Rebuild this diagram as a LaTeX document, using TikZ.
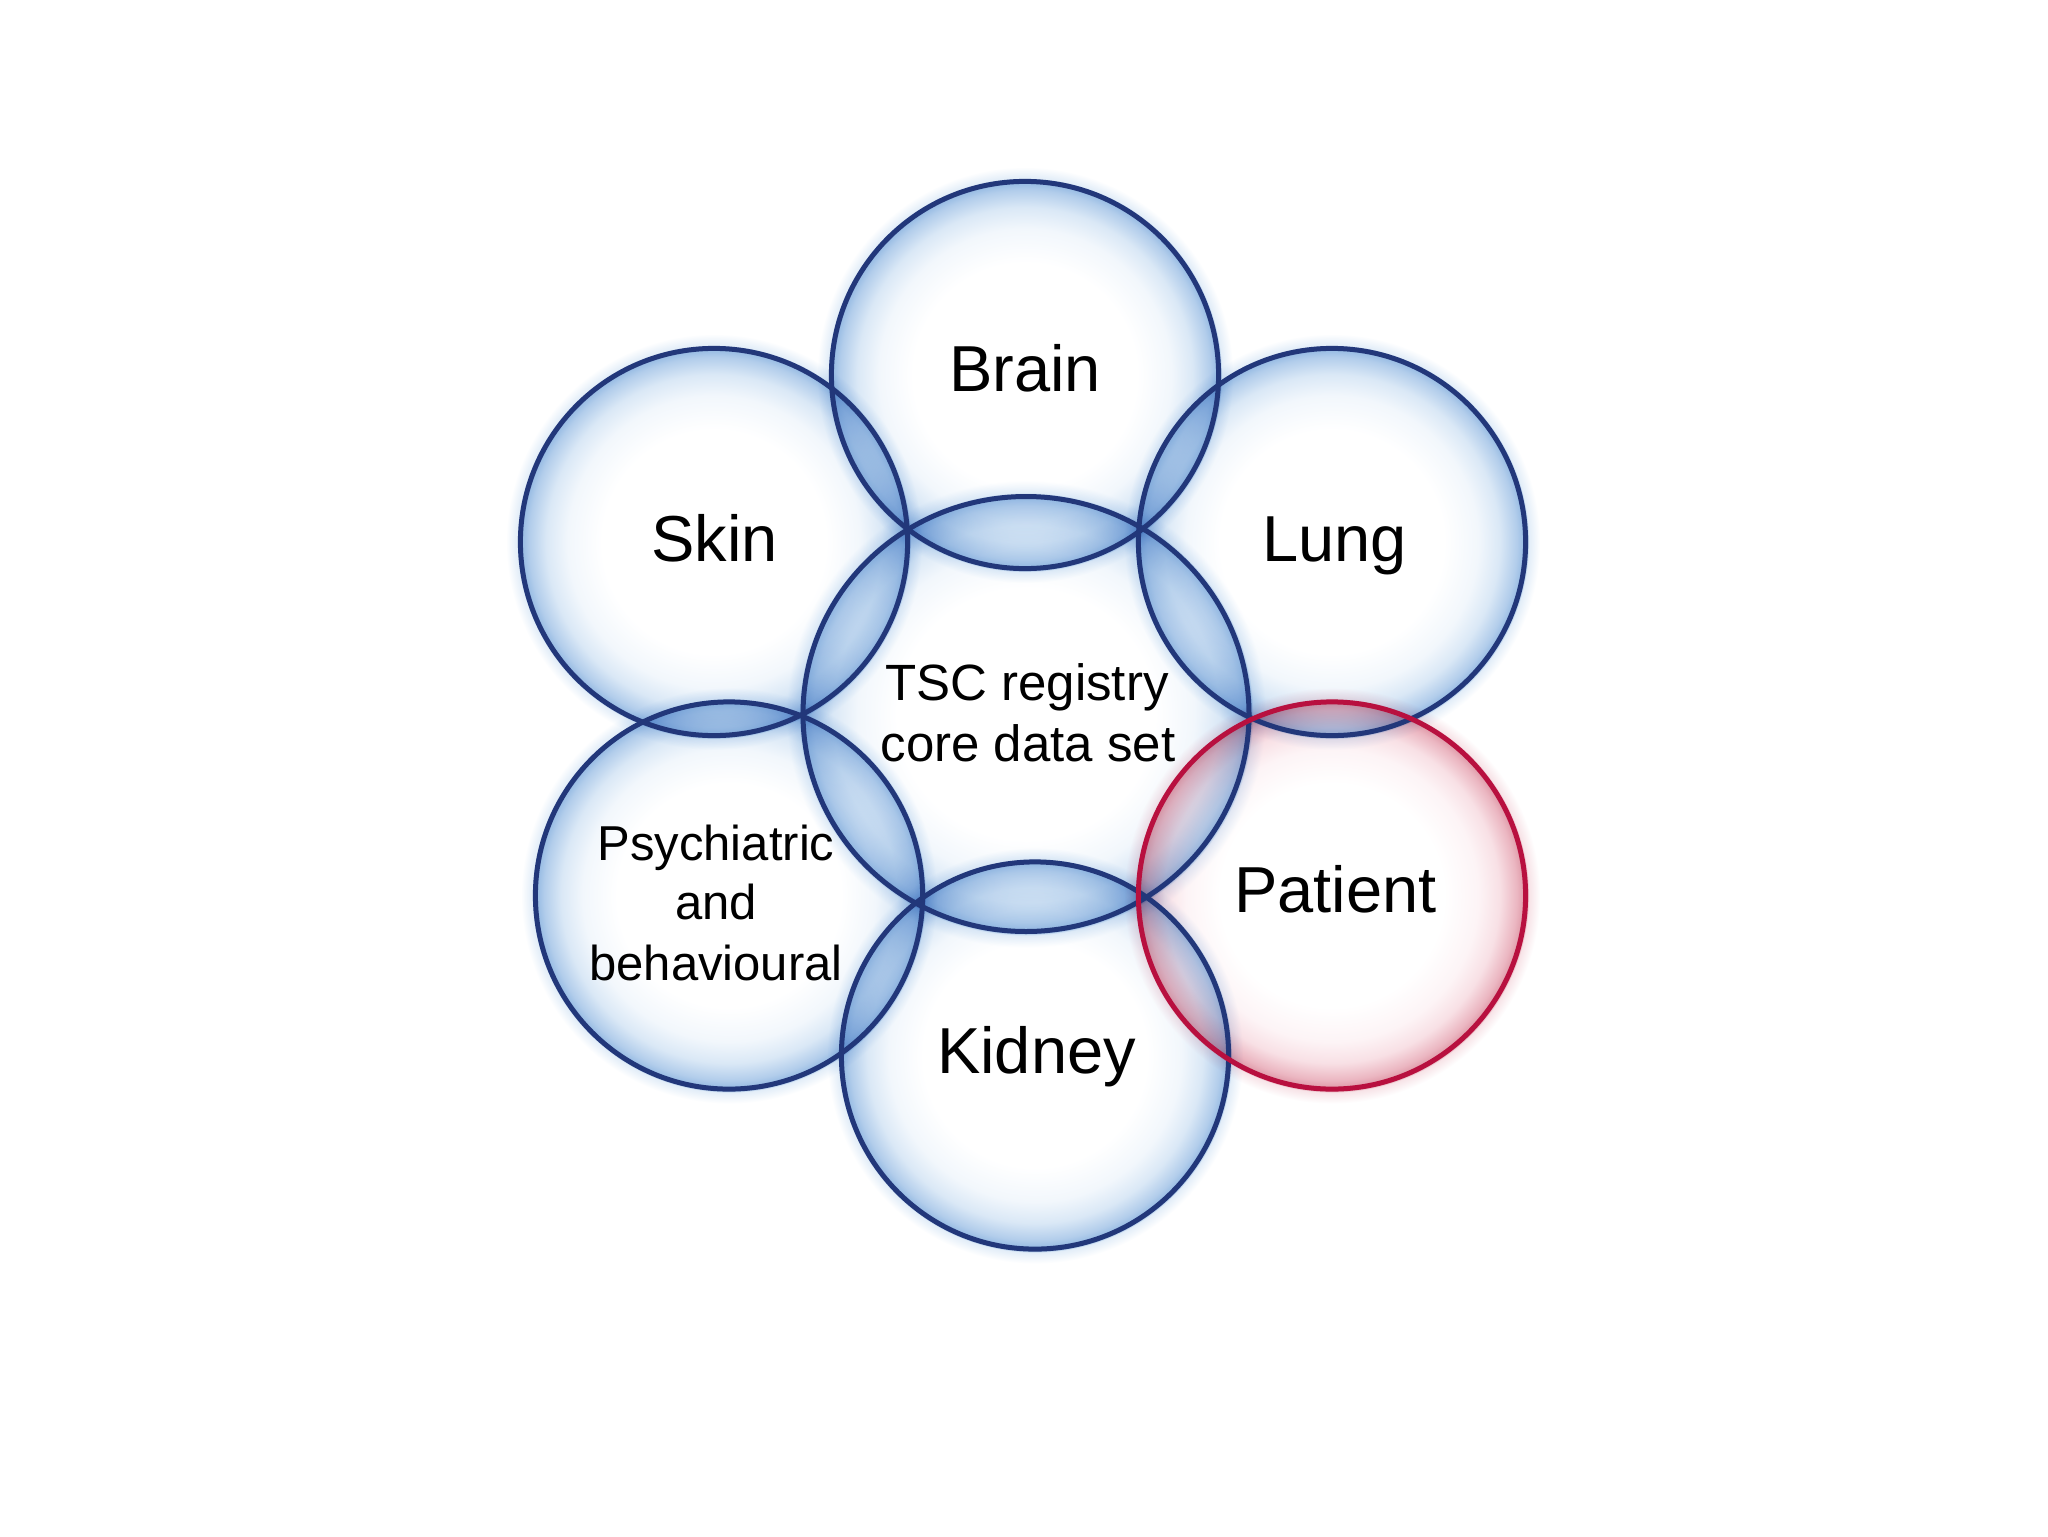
\documentclass[tikz,border=0pt]{standalone}
\usepackage{fontspec}
\setmainfont{Liberation Sans}
\definecolor{navy}{HTML}{22377A}
\definecolor{crim}{HTML}{B8103F}
\definecolor{bA}{HTML}{F2F7FC}
\definecolor{bB}{HTML}{DAE8F6}
\definecolor{bC}{HTML}{B2CDEB}
\definecolor{bD}{HTML}{8FB6E1}
\definecolor{bE}{HTML}{E2EDF8}
\definecolor{rA}{HTML}{FDF4F6}
\definecolor{rB}{HTML}{F8E0E5}
\definecolor{rC}{HTML}{EBB6C1}
\definecolor{rD}{HTML}{DC93A2}
\definecolor{rE}{HTML}{F7E3E7}
\pgfdeclareradialshading{bubbleblue}{\pgfpoint{0bp}{0bp}}{color(0bp)=(white); color(13bp)=(white); color(17bp)=(bA); color(19.5bp)=(bB); color(21.5bp)=(bC); color(22.6bp)=(bD); color(22.9bp)=(bE); color(24.2bp)=(white); color(50bp)=(white)}
\pgfdeclareradialshading{bubblered}{\pgfpoint{0bp}{0bp}}{color(0bp)=(white); color(13bp)=(white); color(17bp)=(rA); color(19.5bp)=(rB); color(21.5bp)=(rC); color(22.6bp)=(rD); color(22.9bp)=(rE); color(24.2bp)=(white); color(50bp)=(white)}
\begin{document}
\begin{tikzpicture}[x=0.5pt, y=-0.5pt,
  bubble/.style={shade, shading=bubbleblue},
  redbubble/.style={shade, shading=bubblered},
  ring/.style={draw=navy, line width=2.5pt},
  redring/.style={draw=crim, line width=2.5pt},
  biglbl/.style={anchor=base, inner sep=0pt, font=\fontsize{32.5}{39}\selectfont},
  corelbl/.style={anchor=base, inner sep=0pt, font=\fontsize{25.5}{30}\selectfont},
  psylbl/.style={anchor=base, inner sep=0pt, font=\fontsize{24.5}{30}\selectfont}]
\fill[white] (0,0) rectangle (2048,1536);
\useasboundingbox (0,0) rectangle (2048,1536);
\coordinate (cBrain) at (1025,375);
\coordinate (cSkin) at (714,542);
\coordinate (cLung) at (1332,542);
\coordinate (cCore) at (1026,714);
\coordinate (cPsych) at (729,895.5);
\coordinate (cKidney) at (1035,1055.5);
\coordinate (cPatient) at (1332,895.5);
\begin{scope}[blend mode=multiply]
\shade[bubble] (cBrain) circle[radius=107.5pt];
\shade[bubble] (cSkin) circle[radius=107.5pt];
\shade[bubble] (cLung) circle[radius=107.5pt];
\shade[bubble] (cPsych) circle[radius=107.5pt];
\shade[bubble] (cKidney) circle[radius=107.5pt];
\shade[bubble] (cCore) ellipse[x radius=123.8pt, y radius=120.75pt];
\shade[redbubble] (cPatient) circle[radius=107.5pt];
\end{scope}
\draw[ring] (cBrain) circle[radius=96.8pt];
\draw[ring] (cSkin) circle[radius=96.8pt];
\draw[ring] (cLung) circle[radius=96.8pt];
\draw[ring] (cPsych) circle[radius=96.8pt];
\draw[ring] (cKidney) circle[radius=96.8pt];
\draw[ring] (cCore) ellipse[x radius=111.5pt, y radius=108.75pt];
\draw[redring] (cPatient) circle[radius=96.8pt];
\node[biglbl] (brain) at (1025,391.5) {Brain};
\node[biglbl] (skin) at (714.5,561) {Skin};
\node[biglbl] (lung) at (1334.5,561) {Lung};
\node[biglbl] (patient) at (1335.5,912) {Patient};
\node[biglbl] (kidney) at (1036.5,1073.5) {Kidney};
\node[corelbl] (core1) at (1027,700.5) {TSC registry};
\node[corelbl] (core2) at (1028,761) {core data set};
\node[psylbl] (psy1) at (716,860) {Psychiatric};
\node[psylbl] (psy2) at (716,919.5) {and};
\node[psylbl] (psy3) at (716,980) {behavioural};
\end{tikzpicture}
\end{document}
